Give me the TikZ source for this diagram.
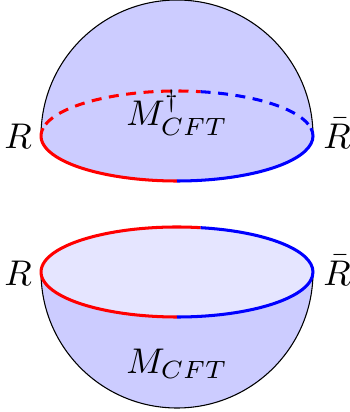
\documentclass[tikz,border=0pt]{standalone}
\begin{document}
\begin{tikzpicture}[x=0.28pt,y=0.28pt,
  rim/.style={line width=0.85pt},
  backrim/.style={rim, dash pattern=on 2.8pt off 2.1pt},
  lbl/.style={anchor=base, inner sep=0pt}]
  \useasboundingbox (0,0) rectangle (350,412);
  \coordinate (ctop) at (177,276);
  \coordinate (cbot) at (177,140);
  % upper half
  \fill[blue!20] (ctop) ++(180:136) arc[start angle=180,end angle=0,radius=136]
    arc[start angle=360,end angle=180,x radius=136,y radius=45] -- cycle;
  \draw[line width=0.3pt] (ctop) ++(180:136) arc[start angle=180,end angle=0,radius=136];
  \draw[backrim,red] (ctop) ++(165:136 and 45) arc[start angle=165,end angle=80,x radius=136,y radius=45];
  \draw[backrim,blue] (ctop) ++(80:136 and 45) arc[start angle=80,end angle=15,x radius=136,y radius=45];
  \draw[rim,red] (ctop) ++(170:136 and 45) arc[start angle=170,end angle=270,x radius=136,y radius=45];
  \draw[rim,blue] (ctop) ++(270:136 and 45) arc[start angle=270,end angle=370,x radius=136,y radius=45];
  \node[lbl] (R1) at (18,264) {$R$};
  \node[lbl] (Rb1) at (337,264) {$\bar{R}$};
  \node[lbl] (Mdag) at (177,287) {$M^\dagger_{CFT}$};
  % lower half
  \fill[blue!20] (cbot) ++(180:136) arc[start angle=180,end angle=360,radius=136]
    arc[start angle=0,end angle=180,x radius=136,y radius=45] -- cycle;
  \fill[blue!10] (cbot) ellipse[x radius=136,y radius=45];
  \draw[line width=0.3pt] (cbot) ++(180:136) arc[start angle=180,end angle=360,radius=136];
  \draw[rim,red] (cbot) ++(80:136 and 45) arc[start angle=80,end angle=270,x radius=136,y radius=45];
  \draw[rim,blue] (cbot) ++(270:136 and 45) arc[start angle=270,end angle=440,x radius=136,y radius=45];
  \node[lbl] (R2) at (18,127) {$R$};
  \node[lbl] (Rb2) at (337,127) {$\bar{R}$};
  \node[lbl] (M) at (177,39) {$M_{CFT}$};
\end{tikzpicture}
\end{document}
